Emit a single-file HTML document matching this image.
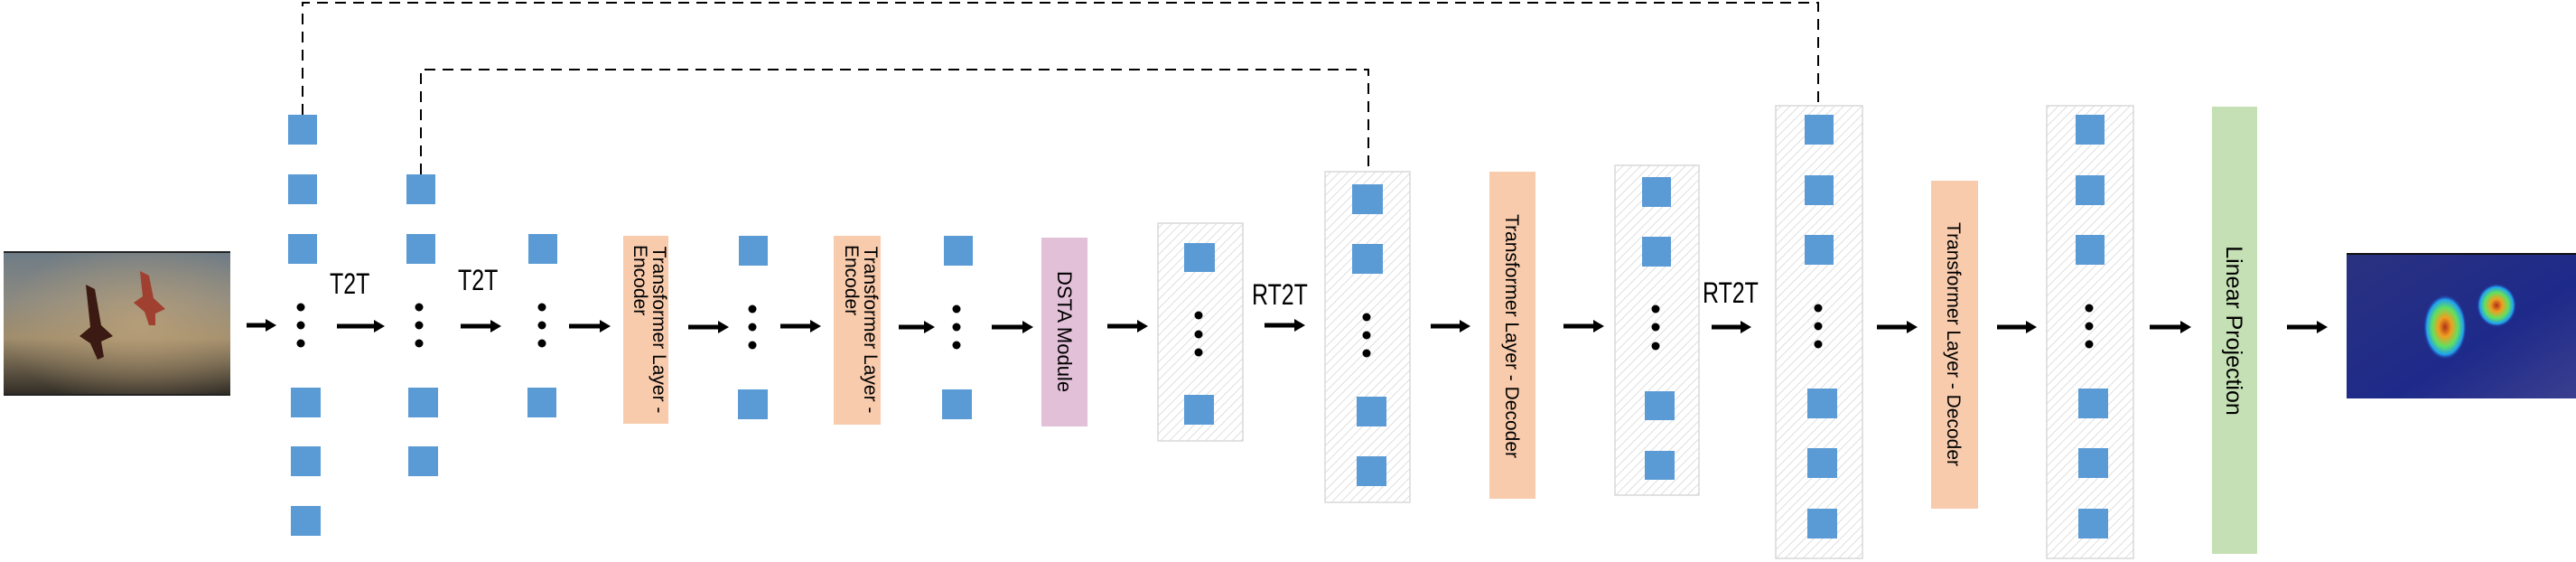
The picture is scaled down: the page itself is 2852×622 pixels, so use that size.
<!DOCTYPE html>
<html><head><meta charset="utf-8"><style>
html,body{margin:0;padding:0;background:#fff;}
svg{display:block;}
</style></head><body>
<svg width="2852" height="622" viewBox="0 0 2852 622" xmlns="http://www.w3.org/2000/svg" font-family="Liberation Sans, sans-serif">
<defs>
<pattern id="h" width="7" height="7" patternUnits="userSpaceOnUse" patternTransform="rotate(45)">
<rect width="7" height="7" fill="#fff"/>
<line x1="0" y1="0" x2="0" y2="7" stroke="#d4d4d4" stroke-width="1.5"/>
</pattern>
<linearGradient id="sky" x1="0" y1="0" x2="0" y2="1">
<stop offset="0" stop-color="#6d7b86"/><stop offset="0.35" stop-color="#8d8a80"/>
<stop offset="0.6" stop-color="#a08d6c"/><stop offset="1" stop-color="#2e2a24"/>
</linearGradient>
<radialGradient id="cl" cx="0.6" cy="0.5" r="0.6">
<stop offset="0" stop-color="#c0a47a" stop-opacity="0.7"/><stop offset="1" stop-color="#c0a47a" stop-opacity="0"/>
</radialGradient>
<linearGradient id="hm" x1="0" y1="0" x2="1" y2="1">
<stop offset="0" stop-color="#2a3280"/><stop offset="0.6" stop-color="#1e2a8a"/><stop offset="1" stop-color="#3a3f8f"/>
</linearGradient>
<radialGradient id="b1" cx="0.5" cy="0.5" r="0.5">
<stop offset="0" stop-color="#b0301a"/><stop offset="0.3" stop-color="#f0a020"/><stop offset="0.6" stop-color="#60e060"/><stop offset="0.85" stop-color="#20a0f0"/><stop offset="1" stop-color="#2030a0" stop-opacity="0"/>
</radialGradient>
</defs>

<rect x="4" y="278" width="251" height="160" fill="url(#sky)"/>
<rect x="4" y="278" width="251" height="160" fill="url(#cl)"/>
<line x1="4" y1="279" x2="255" y2="279" stroke="#222" stroke-width="2"/>
<line x1="4" y1="437" x2="255" y2="437" stroke="#222" stroke-width="2"/>
<path d="M95 315 L105 320 L112 360 L125 372 L112 378 L115 395 L108 398 L100 380 L88 372 L100 362 Z" fill="#3a1a12"/>
<path d="M155 300 L165 305 L170 330 L183 342 L172 347 L172 360 L165 360 L160 345 L148 335 L158 328 Z" fill="#a04030"/>

<rect x="2598" y="280" width="254" height="161" fill="url(#hm)"/>
<line x1="2598" y1="281" x2="2852" y2="281" stroke="#111" stroke-width="2"/>
<ellipse cx="2707" cy="362" rx="24" ry="36" fill="url(#b1)"/>
<ellipse cx="2764" cy="338" rx="22" ry="24" fill="url(#b1)"/>

<g stroke="#000" stroke-width="2" fill="none" stroke-dasharray="12,8">
<polyline points="335,127 335,3 2013,3 2013,117"/>
<polyline points="466,193 466,77 1515,77 1515,190"/>
</g>

<g fill="url(#h)" stroke="#d8d8d8" stroke-width="1.5">
<rect x="1282" y="247" width="94" height="241"/>
<rect x="1467" y="190" width="94" height="366"/>
<rect x="1788" y="183" width="93" height="365"/>
<rect x="1966" y="117" width="96" height="501"/>
<rect x="2266" y="117" width="96" height="501"/>
</g>

<g fill="#5b9bd5">
<rect x="319" y="127" width="32" height="33"/><rect x="319" y="193" width="32" height="33"/><rect x="319" y="259" width="32" height="33"/>
<rect x="322" y="429" width="33" height="33"/><rect x="322" y="494" width="33" height="33"/><rect x="322" y="560" width="33" height="33"/>
<rect x="450" y="193" width="32" height="33"/><rect x="450" y="259" width="32" height="33"/>
<rect x="452" y="429" width="33" height="33"/><rect x="452" y="494" width="33" height="33"/>
<rect x="585" y="259" width="32" height="33"/><rect x="584" y="429" width="32" height="33"/>
<rect x="818" y="261" width="32" height="33"/><rect x="817" y="431" width="33" height="33"/>
<rect x="1045" y="261" width="32" height="33"/><rect x="1043" y="431" width="33" height="33"/>
<rect x="1311" y="269" width="34" height="32"/><rect x="1311" y="437" width="33" height="33"/>
<rect x="1497" y="204" width="34" height="33"/><rect x="1497" y="270" width="34" height="33"/>
<rect x="1502" y="439" width="33" height="33"/><rect x="1502" y="505" width="33" height="33"/>
<rect x="1818" y="196" width="32" height="33"/><rect x="1818" y="262" width="32" height="33"/>
<rect x="1821" y="433" width="33" height="32"/><rect x="1821" y="499" width="33" height="32"/>
<rect x="1998" y="127" width="32" height="33"/><rect x="1998" y="194" width="32" height="33"/><rect x="1998" y="260" width="32" height="33"/>
<rect x="2001" y="430" width="33" height="33"/><rect x="2001" y="496" width="33" height="33"/><rect x="2001" y="563" width="33" height="33"/>
<rect x="2298" y="127" width="32" height="33"/><rect x="2298" y="194" width="32" height="33"/><rect x="2298" y="260" width="32" height="33"/>
<rect x="2301" y="430" width="33" height="33"/><rect x="2301" y="496" width="33" height="33"/><rect x="2301" y="563" width="33" height="33"/>
</g>

<g fill="#000">
<circle cx="333" cy="340" r="4.5"/><circle cx="333" cy="360" r="4.5"/><circle cx="333" cy="380" r="4.5"/>
<circle cx="464" cy="340" r="4.5"/><circle cx="464" cy="360" r="4.5"/><circle cx="464" cy="380" r="4.5"/>
<circle cx="600" cy="340" r="4.5"/><circle cx="600" cy="360" r="4.5"/><circle cx="600" cy="380" r="4.5"/>
<circle cx="833" cy="342" r="4.5"/><circle cx="833" cy="362" r="4.5"/><circle cx="833" cy="382" r="4.5"/>
<circle cx="1059" cy="342" r="4.5"/><circle cx="1059" cy="362" r="4.5"/><circle cx="1059" cy="382" r="4.5"/>
<circle cx="1327" cy="349" r="4.5"/><circle cx="1327" cy="370" r="4.5"/><circle cx="1327" cy="390" r="4.5"/>
<circle cx="1513" cy="351" r="4.5"/><circle cx="1513" cy="371" r="4.5"/><circle cx="1513" cy="391" r="4.5"/>
<circle cx="1833" cy="342" r="4.5"/><circle cx="1833" cy="362" r="4.5"/><circle cx="1833" cy="383" r="4.5"/>
<circle cx="2013" cy="341" r="4.5"/><circle cx="2013" cy="361" r="4.5"/><circle cx="2013" cy="381" r="4.5"/>
<circle cx="2313" cy="341" r="4.5"/><circle cx="2313" cy="361" r="4.5"/><circle cx="2313" cy="381" r="4.5"/>
</g>

<rect x="690" y="261" width="50" height="208" fill="#f8cbad"/>
<rect x="923" y="261" width="52" height="209" fill="#f8cbad"/>
<rect x="1153" y="263" width="51" height="209" fill="#e2c0d8"/>
<rect x="1649" y="190" width="51" height="362" fill="#f8cbad"/>
<rect x="2138" y="200" width="52" height="363" fill="#f8cbad"/>
<rect x="2449" y="118" width="50" height="495" fill="#c5e0b4"/>

<g font-size="21" fill="#000">
<text transform="translate(723,365) rotate(90)" text-anchor="middle">Transformer Layer -</text>
<text transform="translate(702,271) rotate(90)">Encoder</text>
<text transform="translate(957,365) rotate(90)" text-anchor="middle">Transformer Layer -</text>
<text transform="translate(936,271) rotate(90)">Encoder</text>
<text transform="translate(1171,367) rotate(90)" text-anchor="middle" font-size="22">DSTA Module</text>
<text transform="translate(1667,372) rotate(90)" text-anchor="middle">Transformer Layer - Decoder</text>
<text transform="translate(2156,381) rotate(90)" text-anchor="middle">Transformer Layer - Decoder</text>
<text transform="translate(2465,366) rotate(90)" text-anchor="middle" font-size="25">Linear Projection</text>
</g>

<g font-size="32" fill="#000">
<text transform="translate(365,325) scale(0.78,1)">T2T</text>
<text transform="translate(507,321) scale(0.78,1)">T2T</text>
<text transform="translate(1386,337) scale(0.78,1)">RT2T</text>
<text transform="translate(1885,335) scale(0.78,1)">RT2T</text>
</g>

<g stroke="#000" stroke-width="5">
<line x1="273" y1="360" x2="296" y2="360"/>
<line x1="373" y1="361" x2="416" y2="361"/>
<line x1="510" y1="361" x2="545" y2="361"/>
<line x1="630" y1="361" x2="666" y2="361"/>
<line x1="762" y1="362" x2="797" y2="362"/>
<line x1="864" y1="361" x2="899" y2="361"/>
<line x1="995" y1="362" x2="1025" y2="362"/>
<line x1="1098" y1="362" x2="1134" y2="362"/>
<line x1="1226" y1="361" x2="1261" y2="361"/>
<line x1="1400" y1="360" x2="1435" y2="360"/>
<line x1="1584" y1="361" x2="1618" y2="361"/>
<line x1="1731" y1="361" x2="1766" y2="361"/>
<line x1="1895" y1="362" x2="1929" y2="362"/>
<line x1="2078" y1="362" x2="2113" y2="362"/>
<line x1="2211" y1="362" x2="2245" y2="362"/>
<line x1="2380" y1="362" x2="2416" y2="362"/>
<line x1="2532" y1="362" x2="2567" y2="362"/>
</g>
<g fill="#000">
<polygon points="294,353 306,360 294,367"/>
<polygon points="414,354 426,361 414,368"/>
<polygon points="543,354 555,361 543,368"/>
<polygon points="664,354 676,361 664,368"/>
<polygon points="795,355 807,362 795,369"/>
<polygon points="897,354 909,361 897,368"/>
<polygon points="1023,355 1035,362 1023,369"/>
<polygon points="1132,355 1144,362 1132,369"/>
<polygon points="1259,354 1271,361 1259,368"/>
<polygon points="1433,353 1445,360 1433,367"/>
<polygon points="1616,354 1628,361 1616,368"/>
<polygon points="1764,354 1776,361 1764,368"/>
<polygon points="1927,355 1939,362 1927,369"/>
<polygon points="2111,355 2123,362 2111,369"/>
<polygon points="2243,355 2255,362 2243,369"/>
<polygon points="2414,355 2426,362 2414,369"/>
<polygon points="2565,355 2577,362 2565,369"/>
</g>
</svg>
</body></html>
